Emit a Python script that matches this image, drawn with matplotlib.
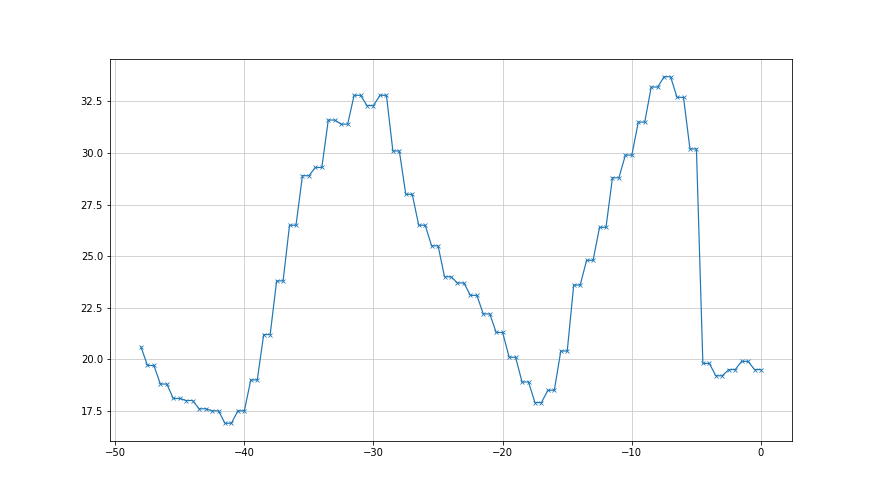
import numpy as np
import matplotlib
matplotlib.use('Agg')
import matplotlib.pyplot as plt

# half-hour samples over the last 48 hours
hours = np.arange(-48, 0.5, 0.5)
temps = [20.6,
         19.7, 19.7, 18.8, 18.8, 18.1, 18.1, 18.0, 18.0, 17.6, 17.6,
         17.5, 17.5, 16.9, 16.9, 17.5, 17.5, 19.0, 19.0, 21.2, 21.2,
         23.8, 23.8, 26.5, 26.5, 28.9, 28.9, 29.3, 29.3, 31.6, 31.6,
         31.4, 31.4, 32.8, 32.8, 32.3, 32.3, 32.8, 32.8, 30.1, 30.1,
         28.0, 28.0, 26.5, 26.5, 25.5, 25.5, 24.0, 24.0, 23.7, 23.7,
         23.1, 23.1, 22.2, 22.2, 21.3, 21.3, 20.1, 20.1, 18.9, 18.9,
         17.9, 17.9, 18.5, 18.5, 20.4, 20.4, 23.6, 23.6, 24.8, 24.8,
         26.4, 26.4, 28.8, 28.8, 29.9, 29.9, 31.5, 31.5, 33.2, 33.2,
         33.7, 33.7, 32.7, 32.7, 30.2, 30.2, 19.8, 19.8, 19.2, 19.2,
         19.5, 19.5, 19.9, 19.9, 19.5, 19.5]

fig, ax = plt.subplots(figsize=(880/72., 495/72.), dpi=72)
ax.plot(hours, temps, marker='x', markersize=4, markeredgewidth=0.8,
        linewidth=1.2)
ax.grid(True, color='#c8c8c8', linewidth=0.8)

fig.savefig('out.png', dpi=72)
plt.close()
